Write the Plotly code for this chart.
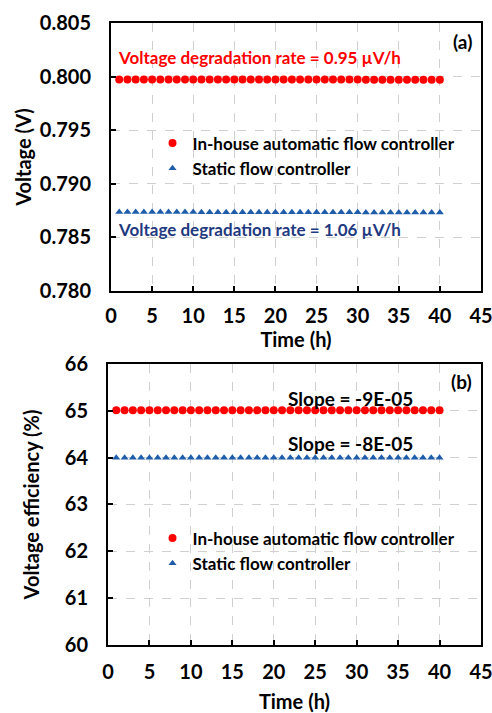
import plotly.graph_objects as go

# Time axis (h)
hours = [1, 2, 3, 4, 5, 6, 7, 8, 9, 10,
         11, 12, 13, 14, 15, 16, 17, 18, 19, 20,
         21, 22, 23, 24, 25, 26, 27, 28, 29, 30,
         31, 32, 33, 34, 35, 36, 37, 38, 39, 40]

# (a) Cell voltage (V)
voltage_auto = [0.79974, 0.79974, 0.79974, 0.79974, 0.79974, 0.79974, 0.79974, 0.79974, 0.79974, 0.79974,
                0.79973, 0.79973, 0.79973, 0.79973, 0.79973, 0.79973, 0.79973, 0.79973, 0.79973, 0.79973,
                0.79972, 0.79972, 0.79972, 0.79972, 0.79972, 0.79972, 0.79972, 0.79972, 0.79972, 0.79972,
                0.79971, 0.79971, 0.79971, 0.79971, 0.79971, 0.79971, 0.79971, 0.79971, 0.79971, 0.79971]
voltage_static = [0.78736, 0.78736, 0.78736, 0.78736, 0.78736, 0.78736, 0.78736, 0.78736, 0.78736, 0.78736,
                  0.78735, 0.78735, 0.78735, 0.78735, 0.78735, 0.78735, 0.78735, 0.78735, 0.78735, 0.78735,
                  0.78734, 0.78734, 0.78734, 0.78734, 0.78734, 0.78734, 0.78734, 0.78734, 0.78734, 0.78734,
                  0.78733, 0.78733, 0.78733, 0.78733, 0.78733, 0.78733, 0.78733, 0.78733, 0.78733, 0.78733]

# (b) Voltage efficiency (%)
ve_auto = [65.01, 65.01, 65.01, 65.01, 65.01, 65.01, 65.01, 65.01, 65.01, 65.01,
           65.01, 65.01, 65.01, 65.01, 65.01, 65.01, 65.01, 65.01, 65.01, 65.01,
           65.01, 65.01, 65.01, 65.01, 65.01, 65.01, 65.01, 65.01, 65.01, 65.01,
           65.01, 65.01, 65.01, 65.01, 65.01, 65.01, 65.01, 65.01, 65.01, 65.01]
ve_static = [64.0, 64.0, 64.0, 64.0, 64.0, 64.0, 64.0, 64.0, 64.0, 64.0,
             64.0, 64.0, 64.0, 64.0, 64.0, 64.0, 64.0, 64.0, 64.0, 64.0,
             64.0, 64.0, 64.0, 64.0, 64.0, 64.0, 64.0, 64.0, 64.0, 64.0,
             64.0, 64.0, 64.0, 64.0, 64.0, 64.0, 64.0, 64.0, 64.0, 64.0]

series_names = ["In-house automatic flow controller", "Static flow controller"]
x_ticks = [0, 5, 10, 15, 20, 25, 30, 35, 40, 45]
v_ticks = [0.780, 0.785, 0.790, 0.795, 0.800, 0.805]
ve_ticks = [60, 61, 62, 63, 64, 65, 66]

RED = "#FF0000"
BLUE = "#1F5DAA"
NAVY = "#1F3A80"
FONT = "Lato"

fig = go.Figure()

# panel (a)
fig.add_trace(go.Scatter(x=hours, y=voltage_auto, mode="markers", name=series_names[0],
                         marker=dict(symbol="circle", size=8, color=RED),
                         xaxis="x", yaxis="y", legend="legend"))
fig.add_trace(go.Scatter(x=hours, y=voltage_static, mode="markers", name=series_names[1],
                         marker=dict(symbol="triangle-up", size=7, color=BLUE),
                         xaxis="x", yaxis="y", legend="legend"))
# panel (b)
fig.add_trace(go.Scatter(x=hours, y=ve_auto, mode="markers", name=series_names[0],
                         marker=dict(symbol="circle", size=8, color=RED),
                         xaxis="x2", yaxis="y2", legend="legend2"))
fig.add_trace(go.Scatter(x=hours, y=ve_static, mode="markers", name=series_names[1],
                         marker=dict(symbol="triangle-up", size=7, color=BLUE),
                         xaxis="x2", yaxis="y2", legend="legend2"))

tickfont = dict(family=FONT, size=20, color="black", weight="bold")
titlefont = dict(family=FONT, size=20, color="black", weight="bold")
common = dict(showline=True, linewidth=2, linecolor="black", mirror=True,
              ticks="inside", ticklen=5, tickwidth=1.5, tickcolor="black",
              showgrid=True, gridcolor="#D0D0D0", griddash="dash", gridwidth=1,
              zeroline=False, tickfont=tickfont, automargin=False,
              ticklabeloverflow="allow")

legend_style = dict(font=dict(family=FONT, size=17, color="black", weight="bold"),
                    bgcolor="rgba(0,0,0,0)", borderwidth=0, itemwidth=30,
                    tracegroupgap=0, xanchor="left", yanchor="middle")

fig.update_layout(
    width=492, height=713,
    margin=dict(l=0, r=0, t=0, b=0),
    paper_bgcolor="white", plot_bgcolor="white",
    xaxis=dict(domain=[0.2256, 0.9776], range=[0, 45], tickvals=x_ticks, anchor="y",
               ticklabelstandoff=6,
               title=dict(text="Time (h)", font=titlefont, standoff=0), **common),
    yaxis=dict(domain=[0.5919, 0.9677], range=[0.780, 0.805], tickvals=v_ticks,
               tickformat=".3f", anchor="x", ticklabelstandoff=14,
               title=dict(text="Voltage (V)", font=titlefont, standoff=3), **common),
    xaxis2=dict(domain=[0.2195, 0.9776], range=[0, 45], tickvals=x_ticks, anchor="y2",
                ticklabelstandoff=8,
                title=dict(text="Time (h)", font=titlefont, standoff=13), **common),
    yaxis2=dict(domain=[0.0954, 0.4895], range=[60, 66], tickvals=ve_ticks, anchor="x2",
                ticklabelstandoff=14,
                title=dict(text="Voltage efficiency (%)", font=titlefont, standoff=20), **common),
    legend=dict(x=0.31, y=1 - 156 / 713, **legend_style),
    legend2=dict(x=0.31, y=1 - 551 / 713, **legend_style),
    showlegend=True,
)

big = dict(family=FONT, size=19, color="black", weight="bold")
ann_font = dict(family=FONT, size=17, weight="bold")
annotations = [
    dict(text="Voltage degradation rate = 0.95 µV/h", x=0.6, y=0.80183,
         xref="x", yref="y", xanchor="left", yanchor="middle", showarrow=False,
         font=dict(color=RED, **ann_font)),
    dict(text="Voltage degradation rate = 1.06 µV/h", x=0.6, y=0.78569,
         xref="x", yref="y", xanchor="left", yanchor="middle", showarrow=False,
         font=dict(color=NAVY, **ann_font)),
    dict(text="(a)", x=42.7, y=0.80332, xref="x", yref="y", xanchor="center",
         yanchor="middle", showarrow=False, font=big),
    dict(text="Slope = -9E-05", x=29.3, y=65.27, xref="x2", yref="y2", xanchor="center",
         yanchor="middle", showarrow=False, font=big),
    dict(text="Slope = -8E-05", x=29.3, y=64.31, xref="x2", yref="y2", xanchor="center",
         yanchor="middle", showarrow=False, font=big),
    dict(text="(b)", x=42.7, y=65.62, xref="x2", yref="y2", xanchor="center",
         yanchor="middle", showarrow=False, font=big),
]
fig.update_layout(annotations=annotations)

fig.write_html("out.html")
